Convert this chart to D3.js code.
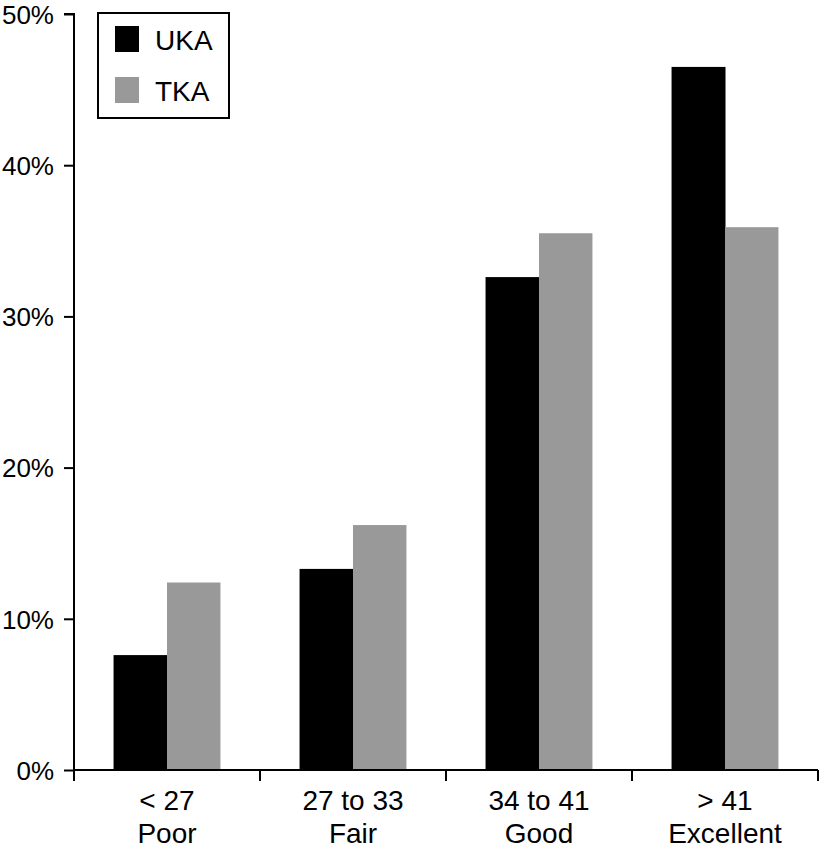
<!DOCTYPE html>
<html><head><meta charset="utf-8">
<script src="https://cdn.jsdelivr.net/npm/d3@7"></script>
<style>body{margin:0;background:#fff}svg{display:block}text{font-family:"Liberation Sans",Arial,sans-serif}</style>
</head><body><svg id="c" width="822" height="850"></svg>
<script>
const categories = ["< 27|Poor", "27 to 33|Fair", "34 to 41|Good", "> 41|Excellent"];
const seriesNames = ["UKA", "TKA"];
const ukaValues = [7.6, 13.3, 32.6, 46.5];
const tkaValues = [12.4, 16.2, 35.5, 35.9];
const yTicks = [0, 10, 20, 30, 40, 50];
const colors = ["#000000", "#999999"];

const svg = d3.select("#c");
const m = {l: 74, r: 4, t: 14, b: 80};
const W = 822, H = 850;
const x = d3.scaleBand().domain(categories).range([m.l, W - m.r]).paddingInner(0).paddingOuter(0);
const x1 = d3.scaleBand().domain(seriesNames).range([0, x.bandwidth()]).paddingOuter(0.74);
const y = d3.scaleLinear().domain([0, 50]).range([H - m.b, m.t]);
const series = [ukaValues, tkaValues];

const g = svg.append("g");
categories.forEach((c, i) => {
  seriesNames.forEach((s, j) => {
    g.append("rect")
      .attr("x", x(c) + x1(s))
      .attr("width", x1.bandwidth() + (j === 0 ? 0.5 : 0))
      .attr("y", y(series[j][i]))
      .attr("height", y(0) - y(series[j][i]))
      .attr("fill", colors[j]);
  });
});

// y axis
const ya = svg.append("g").attr("transform", `translate(${m.l},0)`)
  .call(d3.axisLeft(y).tickValues(yTicks).tickFormat(d => d + "%").tickSize(10).tickPadding(10));
ya.select(".domain").attr("stroke", "#000").attr("stroke-width", 2).attr("d", `M-10,${y(50)}H0V${y(0)}`);
ya.selectAll(".tick line").attr("stroke", "#000").attr("stroke-width", 2);
ya.selectAll(".tick text").attr("font-size", 26).attr("fill", "#000").attr("font-family", "Liberation Sans, Arial, sans-serif").attr("dy", "0.36em");

// x axis
const xa = svg.append("g").attr("transform", `translate(0,${y(0)})`);
xa.append("line").attr("x1", m.l).attr("x2", W - m.r).attr("stroke", "#000").attr("stroke-width", 2);
const bounds = categories.map(c => x(c)).concat([x(categories[categories.length - 1]) + x.bandwidth()]);
bounds.forEach(b => xa.append("line").attr("x1", b).attr("x2", b).attr("y1", 0).attr("y2", 11).attr("stroke", "#000").attr("stroke-width", 2));
categories.forEach(c => {
  const [a, b] = c.split("|");
  const t = xa.append("text").attr("text-anchor", "middle").attr("font-size", 28).attr("fill", "#000")
    .attr("x", x(c) + x.bandwidth() / 2);
  t.append("tspan").attr("x", x(c) + x.bandwidth() / 2).attr("y", 40).text(a);
  t.append("tspan").attr("x", x(c) + x.bandwidth() / 2).attr("y", 73).text(b);
});

// legend
const lg = svg.append("g");
lg.append("rect").attr("x", 98).attr("y", 13).attr("width", 131).attr("height", 105)
  .attr("fill", "#fff").attr("stroke", "#000").attr("stroke-width", 2);
seriesNames.forEach((s, j) => {
  lg.append("rect").attr("x", 115).attr("y", 26 + j * 51).attr("width", 24).attr("height", 26).attr("fill", colors[j]);
  lg.append("text").attr("x", 155).attr("y", 50 + j * 51).attr("font-size", 28).attr("fill", "#000").text(s);
});
</script></body></html>
